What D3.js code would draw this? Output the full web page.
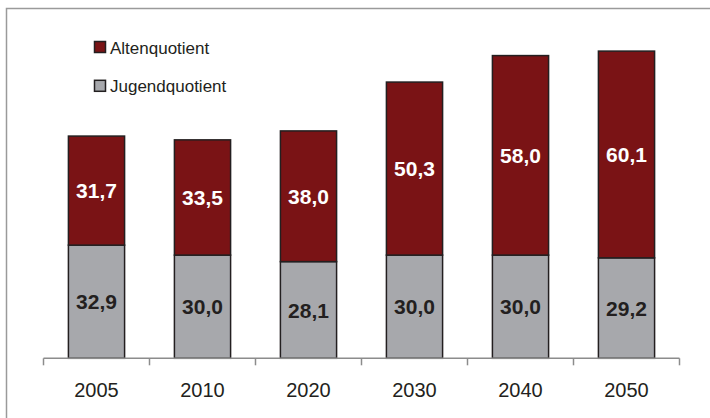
<!DOCTYPE html>
<html><head><meta charset="utf-8">
<script src="https://cdn.jsdelivr.net/npm/d3@7"></script>
<style>body{margin:0;background:#fff}svg{display:block}</style>
</head><body>
<svg id="c" width="710" height="418"></svg>
<script>
const years = ["2005","2010","2020","2030","2040","2050"];
const jugend = [32.9, 30.0, 28.1, 30.0, 30.0, 29.2];
const alten = [31.7, 33.5, 38.0, 50.3, 58.0, 60.1];
const seriesNames = ["Altenquotient","Jugendquotient"];
const colors = {Altenquotient:"#7a1315", Jugendquotient:"#a7a8ac"};

(function(){
const svg = d3.select("#c");
const font = "Arial, 'Liberation Sans', sans-serif";
const pLeft = 43.5, pRight = 679.5, pBase = 358.3, pTop = 14.3;

// frame
svg.append("path").attr("d","M6.5,418V8.5H710").attr("fill","none").attr("stroke","#9a9a9a").attr("stroke-width",1.5);

const x = d3.scaleBand().domain(years).range([pLeft,pRight]).paddingInner(0.47).paddingOuter(0.235);
const y = d3.scaleLinear().domain([0,100]).range([pBase, pTop]);

const data = years.map((yr,i)=>({year:yr, Jugendquotient:jugend[i], Altenquotient:alten[i]}));
const stack = d3.stack().keys(["Jugendquotient","Altenquotient"])(data);

const g = svg.append("g");
stack.forEach(s=>{
  g.selectAll(null).data(s).join("rect")
    .attr("x", d=>x(d.data.year))
    .attr("width", x.bandwidth())
    .attr("y", d=>y(d[1]))
    .attr("height", d=>y(d[0])-y(d[1]))
    .attr("fill", colors[s.key])
    .attr("stroke","#231f20").attr("stroke-width",1.5);
  g.selectAll(null).data(s).join("text")
    .attr("x", d=>x(d.data.year)+x.bandwidth()/2)
    .attr("y", d=>(y(d[0])+y(d[1]))/2)
    .attr("dy","0.36em")
    .attr("text-anchor","middle")
    .attr("font-family",font).attr("font-weight","bold").attr("font-size",21)
    .attr("fill", s.key==="Altenquotient" ? "#ffffff" : "#231f20")
    .text(d=>d3.format(".1f")(d[1]-d[0]).replace(".",","));
});

// axis
const step = x.step();
const tickPos = d3.range(years.length+1).map(i=>pLeft + i*step);
const ax = svg.append("g");
ax.append("line").attr("x1",pLeft).attr("x2",pRight).attr("y1",pBase).attr("y2",pBase)
  .attr("stroke","#8c8c8c").attr("stroke-width",1.5);
ax.selectAll(null).data(tickPos).join("line")
  .attr("x1",d=>d).attr("x2",d=>d).attr("y1",pBase).attr("y2",pBase+7)
  .attr("stroke","#8c8c8c").attr("stroke-width",1.5);
ax.selectAll(null).data(years).join("text")
  .attr("x",d=>x(d)+x.bandwidth()/2).attr("y",397.3)
  .attr("text-anchor","middle").attr("font-family",font).attr("font-size",20).attr("fill","#231f20")
  .text(d=>d);

// legend
const lg = svg.append("g");
seriesNames.forEach((n,i)=>{
  const yy = 41.5 + i*38.8;
  lg.append("rect").attr("x",94.5).attr("y",yy).attr("width",11).attr("height",11)
    .attr("fill",colors[n]).attr("stroke","#231f20").attr("stroke-width",1.5);
  lg.append("text").attr("x",110).attr("y",yy+12).attr("font-family",font).attr("font-size",17)
    .attr("fill","#231f20").text(n);
});
})();
</script>
</body></html>
